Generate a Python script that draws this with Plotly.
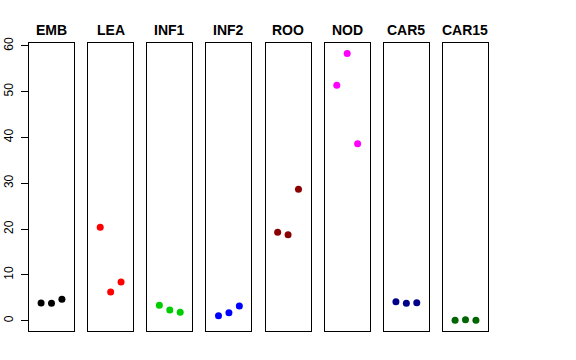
import plotly.graph_objects as go
from plotly.subplots import make_subplots

tissues = ["EMB", "LEA", "INF1", "INF2", "ROO", "NOD", "CAR5", "CAR15"]
colors = ["#000000", "#FF0000", "#00CD00", "#0000FF", "#8B0000", "#FF00FF", "#00008B", "#006400"]
reps = [1, 2, 3]
EMB = [3.86, 3.8, 4.7]
LEA = [20.4, 6.26, 8.44]
INF1 = [3.35, 2.33, 1.83]
INF2 = [1.09, 1.75, 3.2]
ROO = [19.3, 18.77, 28.67]
NOD = [51.4, 58.3, 38.6]
CAR5 = [4.15, 3.8, 3.93]
CAR15 = [0.08, 0.22, 0.08]
values = [EMB, LEA, INF1, INF2, ROO, NOD, CAR5, CAR15]
yticks = [0, 10, 20, 30, 40, 50, 60]

FONT = "Liberation Sans, Arial, Helvetica, sans-serif"

fig = make_subplots(rows=1, cols=8, horizontal_spacing=0.0308, shared_yaxes=False)

for i, (name, col, vals) in enumerate(zip(tissues, colors, values)):
    fig.add_trace(
        go.Scatter(x=reps, y=vals, mode="markers",
                   marker=dict(color=col, size=7, line=dict(width=0)),
                   showlegend=False, hoverinfo="skip"),
        row=1, col=i + 1)
    fig.update_xaxes(range=[-0.16, 4.16], showticklabels=False, ticks="",
                     showgrid=False, zeroline=False, showline=True, mirror=True,
                     linecolor="black", linewidth=1, automargin=False,
                     row=1, col=i + 1)
    fig.update_yaxes(range=[-2.25, 60.6], showgrid=False, zeroline=False,
                     showline=True, mirror=True, linecolor="black", linewidth=1,
                     showticklabels=(i == 0), ticks=("outside" if i == 0 else ""),
                     ticklen=7, tickcolor="black", tickwidth=1,
                     tickvals=yticks, tickangle=-90, automargin=False,
                     tickfont=dict(family=FONT, size=12, color="black"),
                     row=1, col=i + 1)
    xref = "x" if i == 0 else f"x{i+1}"
    fig.add_annotation(text=f"<b>{name}</b>", xref=f"{xref} domain", yref="paper",
                       x=0.5, y=1, yanchor="middle", yshift=13, showarrow=False,
                       font=dict(family=FONT, size=14, color="black"))

fig.update_yaxes(ticklabelstandoff=3, row=1, col=1)

fig.update_layout(
    width=576, height=360,
    margin=dict(l=29, r=88, t=43, b=29, autoexpand=False),
    paper_bgcolor="white", plot_bgcolor="white",
    font=dict(family=FONT, color="black"),
)

fig.write_html("out.html", config={"displayModeBar": False},
               post_script="document.body.style.margin='0px';")
